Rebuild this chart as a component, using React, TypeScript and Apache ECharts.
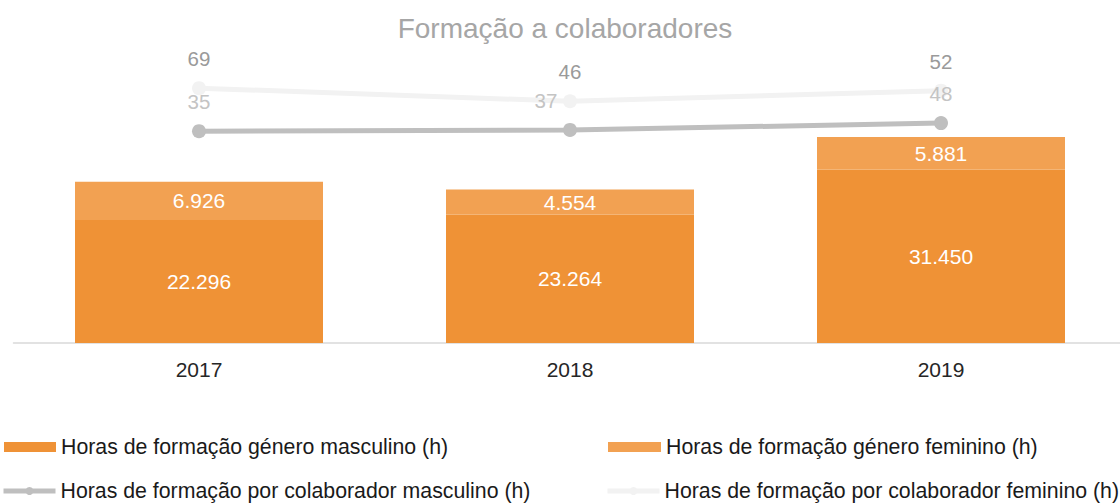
import React, { useEffect, useRef } from "react";
import * as echarts from "echarts";

const years = ["2017", "2018", "2019"];
const horasMasc = [22296, 23264, 31450];
const horasFem = [6926, 4554, 5881];
const porColabMasc = [35, 37, 48];
const porColabFem = [69, 46, 52];

const nameHorasMasc = "Horas de formação género masculino (h)";
const nameHorasFem = "Horas de formação género feminino (h)";
const nameColabMasc = "Horas de formação por colaborador masculino (h)";
const nameColabFem = "Horas de formação por colaborador feminino (h)";

const FONT = "'Liberation Sans', Arial, sans-serif";

const fmt = (v: number) => String(v).replace(/\B(?=(\d{3})+(?!\d))/g, ".");

const legendItem = (name: string, left: number, top: number, width: number, icon?: string) => ({
  left,
  top,
  padding: 0,
  orient: "horizontal",
  itemWidth: width,
  itemHeight: 10,
  ...(icon ? { icon } : {}),
  lineStyle: { width: 5 },
  textStyle: { fontFamily: FONT, fontSize: 21.3, color: "#1a1a1a", lineHeight: 22 },
  data: [name],
});

export default function App() {
  const ref = useRef<HTMLDivElement>(null);
  useEffect(() => {
    if (!ref.current) return;
    const chart = echarts.init(ref.current, null, { renderer: "svg" });
    chart.setOption({
      animation: false,
      textStyle: { fontFamily: FONT },
      title: {
        text: "Formação a colaboradores",
        left: 560,
        textAlign: "center",
        top: 9,
        textStyle: { fontFamily: FONT, fontSize: 28, fontWeight: "normal", color: "#a6a6a6" },
      },
      grid: { left: 13.5, top: 67, width: 1113, height: 276, containLabel: false },
      legend: [
        legendItem(nameHorasMasc, 4, 436, 52, "rect"),
        legendItem(nameColabMasc, 1, 480, 52),
        legendItem(nameHorasFem, 608, 436, 53, "rect"),
        legendItem(nameColabFem, 605, 480, 52),
      ],
      xAxis: {
        type: "category",
        data: years,
        axisLine: { lineStyle: { color: "#d9d9d9", width: 1.5 } },
        axisTick: { show: false },
        axisLabel: { fontFamily: FONT, fontSize: 21, color: "#262626", margin: 16 },
      },
      yAxis: [
        { type: "value", min: 0, max: 50000, show: false, splitLine: { show: false } },
        { type: "value", min: -305, max: 138, show: false, splitLine: { show: false } },
      ],
      series: [
        {
          name: nameHorasMasc,
          type: "bar",
          stack: "bars",
          barWidth: 248,
          data: horasMasc,
          itemStyle: { color: "#ef9236" },
          label: {
            show: true,
            position: "inside",
            color: "#ffffff",
            fontFamily: FONT,
            fontSize: 21,
            formatter: (p: any) => fmt(p.value),
          },
        },
        {
          name: nameHorasFem,
          type: "bar",
          stack: "bars",
          barWidth: 248,
          data: horasFem,
          itemStyle: { color: "#f2a152" },
          label: {
            show: true,
            position: "inside",
            color: "#ffffff",
            fontFamily: FONT,
            fontSize: 21,
            formatter: (p: any) => fmt(p.value),
          },
        },
        {
          name: nameColabMasc,
          type: "line",
          yAxisIndex: 1,
          stack: "lines",
          data: porColabMasc.map((v, i) =>
            i === 1 ? { value: v, label: { offset: [-24, 0] } } : v
          ),
          symbol: "circle",
          symbolSize: 14,
          lineStyle: { color: "#bfbfbf", width: 5 },
          itemStyle: { color: "#bfbfbf" },
          label: {
            show: true,
            position: "top",
            distance: 12,
            color: "#c4c4c4",
            fontFamily: FONT,
            fontSize: 20.5,
          },
          z: 5,
        },
        {
          name: nameColabFem,
          type: "line",
          yAxisIndex: 1,
          stack: "lines",
          data: porColabFem,
          symbol: "circle",
          symbolSize: 14,
          lineStyle: { color: "#f2f2f2", width: 5 },
          itemStyle: { color: "#f2f2f2" },
          label: {
            show: true,
            position: "top",
            distance: 12,
            color: "#9a9a9a",
            fontFamily: FONT,
            fontSize: 20.5,
          },
          z: 4,
        },
      ],
    });
    return () => chart.dispose();
  }, []);
  return (
    <div style={{ position: "absolute", left: 0, top: 0, width: 1120, height: 503, overflow: "hidden" }}>
      <div ref={ref} style={{ width: 1140, height: 503 }} />
    </div>
  );
}
